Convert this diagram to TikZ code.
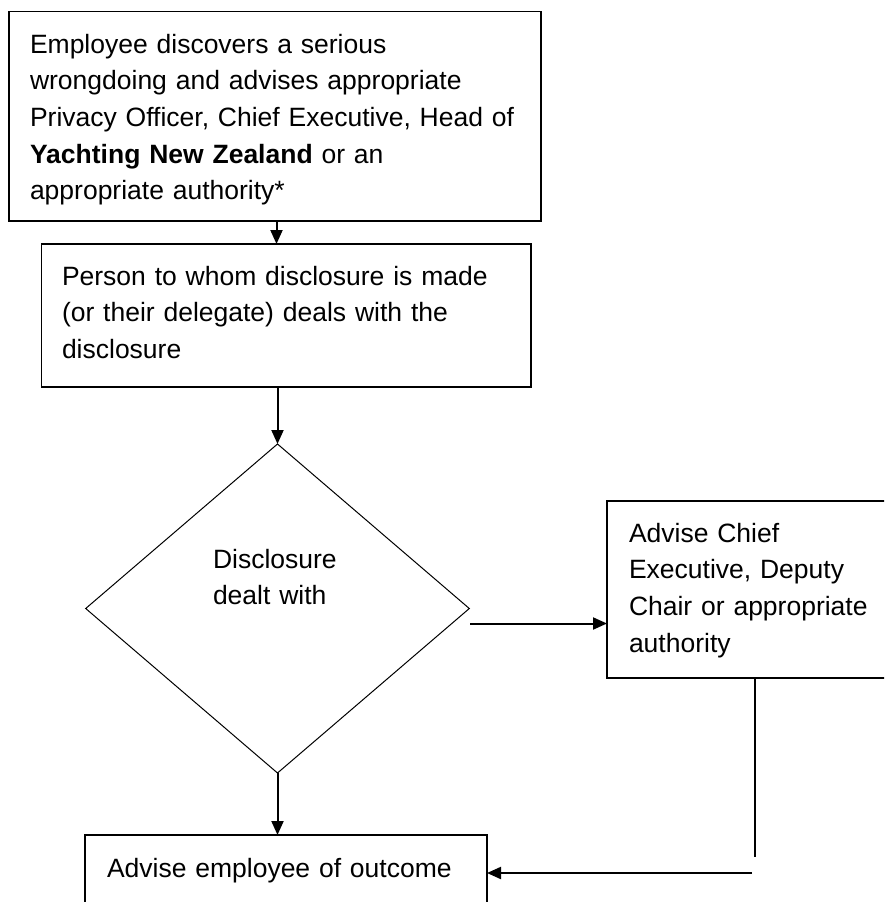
\documentclass[tikz,border=0pt]{standalone}
\usepackage{fontspec}
\setmainfont{Liberation Sans}
\usetikzlibrary{arrows.meta,shapes.geometric,calc}
\begin{document}
\begin{tikzpicture}[x=1pt,y=-1pt,
  box/.style={draw, line width=1.5pt, inner sep=0pt, outer sep=0pt, rectangle},
  dia/.style={draw, line width=1pt, diamond, inner sep=0pt, outer sep=0pt},
  txt/.style={anchor=base west, inner sep=0pt, outer sep=0pt, align=left, text width=520pt,
              font=\fontsize{26.5}{36.7}\selectfont},
  arr/.style={line width=2pt, -{Triangle[length=14pt,width=12pt]}},
  ln/.style={line width=1.4pt}]
\useasboundingbox (0,0) rectangle (884,902);
\clip (0,0) rectangle (884,902);
\fill[white] (0,0) rectangle (884,902);
% shapes
\node[box, minimum width=532pt, minimum height=209.3pt] (b1) at (275,116.35) {};
\node[box, minimum width=489.3pt, minimum height=143pt] (b2) at (286.35,315.5) {};
\node[dia, minimum width=383.6pt, minimum height=329pt] (d) at (277.5,608.5) {};
\node[box, minimum width=288pt, minimum height=177pt] (b3) at (751,589.5) {};
\node[box, minimum width=402pt, minimum height=80pt] (b4) at (286,875) {};
% texts
\node[txt] (t1) at ($(b1.north west)+(21,41.3)$) {Employee discovers a serious\\wrongdoing and advises appropriate\\Privacy Officer, Chief Executive, Head of\\\textbf{Yachting New Zealand} or an\\appropriate authority*};
\node[txt] (t2) at ($(b2.north west)+(20.3,41)$) {Person to whom disclosure is made\\(or their delegate) deals with the\\disclosure};
\node[txt] (td) at (213,568) {Disclosure\\dealt with};
\node[txt] (t3) at ($(b3.north west)+(22,41)$) {Advise Chief\\Executive, Deputy\\Chair or appropriate\\authority};
\node[txt] (t4) at ($(b4.north west)+(22,42)$) {Advise employee of outcome};
% connectors
\coordinate (x1) at (276.5,0);
\draw[arr] (b1.south -| x1) -- (b2.north -| x1);
\draw[arr] (b2.south -| d.north) -- (d.north);
\coordinate (a3) at (470,623.5);
\draw[arr] (a3) -- (a3 -| b3.west);
\draw[arr] (d.south) -- (d.south |- b4.north);
\coordinate (c5) at (755,857);
\draw[ln] (b3.south -| c5) -- (c5);
\coordinate (c6) at (752,873);
\draw[arr] (c6) -- (c6 -| b4.east);
\end{tikzpicture}
\end{document}
